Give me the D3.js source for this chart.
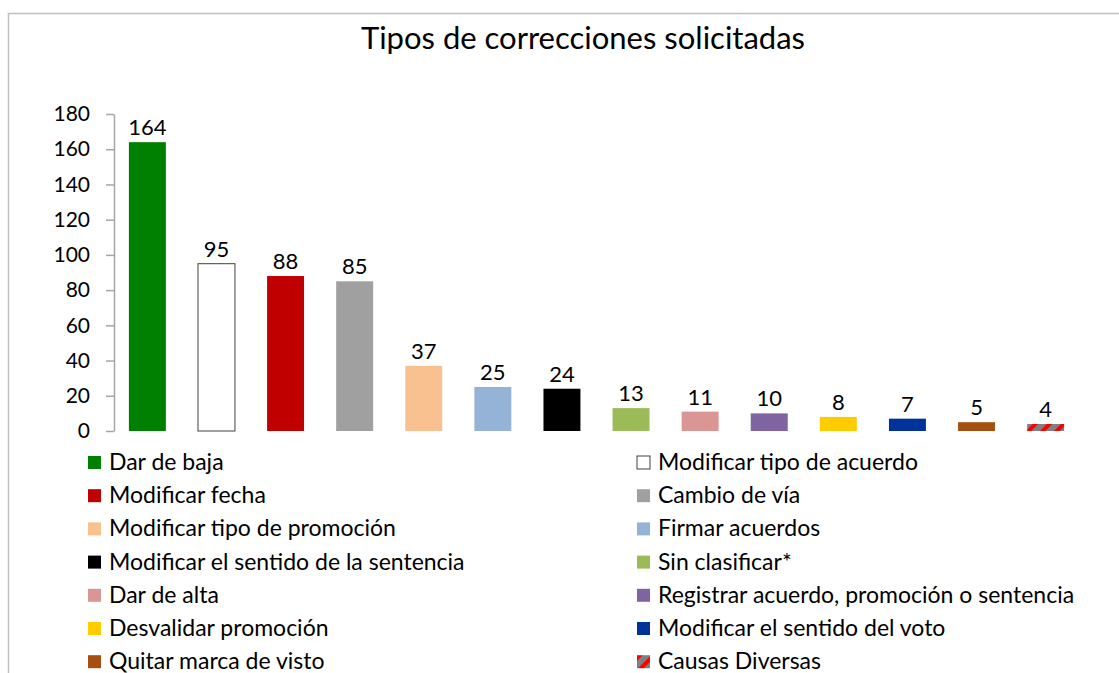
<!DOCTYPE html>
<html>
<head>
<meta charset="utf-8">
<script src="https://cdn.jsdelivr.net/npm/d3@7"></script>
<style>
  body { margin: 0; background: #fff; }
  svg { display: block; font-family: Lato, "Open Sans", sans-serif; }
</style>
</head>
<body>
<script>
const categories = [
  'Dar de baja', 'Modificar tipo de acuerdo', 'Modificar fecha', 'Cambio de vía',
  'Modificar tipo de promoción', 'Firmar acuerdos', 'Modificar el sentido de la sentencia',
  'Sin clasificar*', 'Dar de alta', 'Registrar acuerdo, promoción o sentencia',
  'Desvalidar promoción', 'Modificar el sentido del voto', 'Quitar marca de visto',
  'Causas Diversas'
];
const values = [164, 95, 88, 85, 37, 25, 24, 13, 11, 10, 8, 7, 5, 4];
const colors = [
  '#008000', '#ffffff', '#c00000', '#a0a0a0', '#f9c090', '#95b3d7', '#000000',
  '#9bbb59', '#d99694', '#8064a2', '#ffcc00', '#003399', '#a5500f', 'url(#stripes)'
];
const yTicks = [0, 20, 40, 60, 80, 100, 120, 140, 160, 180];

const width = 1119, height = 673;
const svg = d3.select('body').append('svg')
  .attr('width', width).attr('height', height);

// diagonal stripes for "Causas Diversas"
const pat = svg.append('defs').append('pattern')
  .attr('id', 'stripes')
  .attr('patternUnits', 'userSpaceOnUse')
  .attr('width', 10).attr('height', 10)
  .attr('patternTransform', 'rotate(45)');
pat.append('rect').attr('width', 10).attr('height', 10).attr('fill', '#808080');
pat.append('rect').attr('width', 4).attr('height', 10).attr('fill', '#ff0000');

// chart border
svg.append('rect')
  .attr('x', 8.5).attr('y', 13.5)
  .attr('width', 1130).attr('height', 700)
  .attr('fill', 'none').attr('stroke', '#bfbfbf').attr('stroke-width', 1.5);

svg.append('text')
  .attr('x', 583).attr('y', 49)
  .attr('text-anchor', 'middle')
  .attr('font-size', 31)
  .attr('fill', '#000')
  .text('Tipos de correcciones solicitadas');

const x = d3.scaleBand().domain(categories).range([113, 1080]).paddingInner(0.465).paddingOuter(0.23);
const y = d3.scaleLinear().domain([0, 180]).range([431, 114]);

const yAxis = svg.append('g')
  .attr('transform', 'translate(114,0)')
  .call(d3.axisLeft(y).tickValues(yTicks).tickSize(8).tickPadding(16).tickSizeOuter(0));
yAxis.select('.domain').attr('stroke', '#a6a6a6').attr('stroke-width', 1.5);
yAxis.selectAll('.tick line').attr('stroke', '#a6a6a6').attr('stroke-width', 1.5);
yAxis.selectAll('.tick text')
  .attr('font-size', 21).attr('fill', '#000')
  .attr('font-family', 'Lato, "Open Sans", sans-serif');

svg.append('g').selectAll('rect')
  .data(categories)
  .join('rect')
  .attr('x', d => x(d))
  .attr('y', (d, i) => y(values[i]))
  .attr('width', x.bandwidth())
  .attr('height', (d, i) => y(0) - y(values[i]))
  .attr('fill', (d, i) => colors[i])
  .attr('stroke', (d, i) => i === 1 ? '#404040' : 'none')
  .attr('stroke-width', 1);

svg.append('g').selectAll('text')
  .data(categories)
  .join('text')
  .attr('x', d => x(d) + x.bandwidth() / 2)
  .attr('y', (d, i) => y(values[i]) - 7)
  .attr('text-anchor', 'middle')
  .attr('font-size', 22)
  .attr('fill', '#000')
  .text((d, i) => values[i]);

// legend, two columns
const legend = svg.append('g').selectAll('g')
  .data(categories)
  .join('g')
  .attr('transform', (d, i) => {
    const col = i % 2, row = Math.floor(i / 2);
    return `translate(${col ? 637 : 88},${456 + row * 33.2})`;
  });
legend.append('rect')
  .attr('width', 13).attr('height', 13)
  .attr('fill', (d, i) => colors[i])
  .attr('stroke', (d, i) => i === 1 ? '#404040' : 'none');
legend.append('text')
  .attr('x', 21).attr('y', 14)
  .attr('font-size', 23)
  .attr('fill', '#000')
  .text(d => d);
</script>
</body>
</html>
